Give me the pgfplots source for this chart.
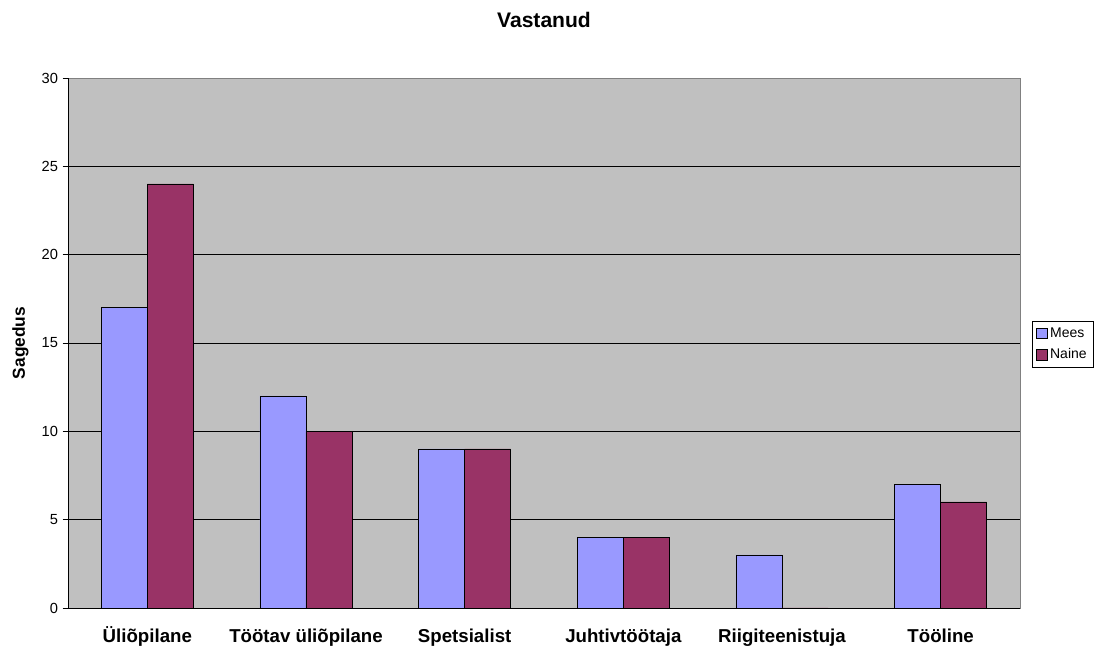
\documentclass[border=0pt]{standalone}
\usepackage{fontspec}
\setmainfont{Liberation Sans}
\usepackage{pgfplots}
\pgfplotsset{compat=1.18}
\definecolor{mees}{HTML}{9999FF}
\definecolor{naine}{HTML}{993366}
\definecolor{bg}{HTML}{C0C0C0}
\begin{document}
\begin{tikzpicture}
\useasboundingbox (-51pt,-30.75pt) rectangle (771pt,456pt);
\begin{axis}[
  at={(0,0)}, anchor=south west,
  scale only axis, width=714pt, height=397.5pt,
  xmin=-0.5, xmax=5.5, ymin=0, ymax=30,
  axis background/.style={fill=bg},
  axis line style={draw=gray},
  ytick={0,5,...,30},
  ytick pos=left, xtick pos=bottom,
  ymajorgrids, grid style={black, line width=0.5pt},
  y tick label style={font=\fontsize{11}{13}\selectfont},
  ytick style={black, line width=0.6pt},
  tick align=outside, major tick length=4pt,
  xtick={0,...,5},
  xticklabels={Üliõpilane, Töötav üliõpilane, Spetsialist, Juhtivtöötaja, Riigiteenistuja, Tööline},
  x tick label style={font=\bfseries\fontsize{14}{16}\selectfont, text height=10pt, text depth=3pt, yshift=-8pt},
  x tick style={draw=none},
  extra x ticks={-0.5,0.5,1.5,2.5,3.5,4.5,5.5},
  extra x tick labels={},
  extra x tick style={major tick length=4pt, tick style={draw=black, line width=0.6pt}},
  ylabel={\bfseries Sagedus},
  ylabel style={font=\bfseries\fontsize{13}{15}\selectfont, yshift=3pt},
  title={\bfseries Vastanud},
  title style={font=\bfseries\fontsize{15.8}{18}\selectfont, yshift=28pt},
  /pgf/number format/assume math mode=true,
  ybar, bar width=0.29,
  legend style={at={(1.0126,0.498)}, anchor=west, draw=black, fill=white,
    font=\fontsize{10.5}{12}\selectfont, row sep=3pt, inner xsep=3pt, inner ysep=3pt},
  legend cell align=left,
  legend image code/.code={\draw[#1] (0pt,-4pt) rectangle (8pt,4pt);},
  clip=false,
]
\addplot[fill=mees, draw=black, bar shift=-0.145] coordinates {(0,17) (1,12) (2,9) (3,4) (4,3) (5,7)};
\addplot[fill=naine, draw=black, bar shift=0.145] coordinates {(0,24) (1,10) (2,9) (3,4) (4,0) (5,6)};
\legend{Mees, Naine}
\draw[black, line width=0.6pt] (rel axis cs:0,0) -- (rel axis cs:0,1);
\draw[black, line width=0.6pt] (rel axis cs:0,0) -- (rel axis cs:1,0);
\end{axis}
\end{tikzpicture}
\end{document}
